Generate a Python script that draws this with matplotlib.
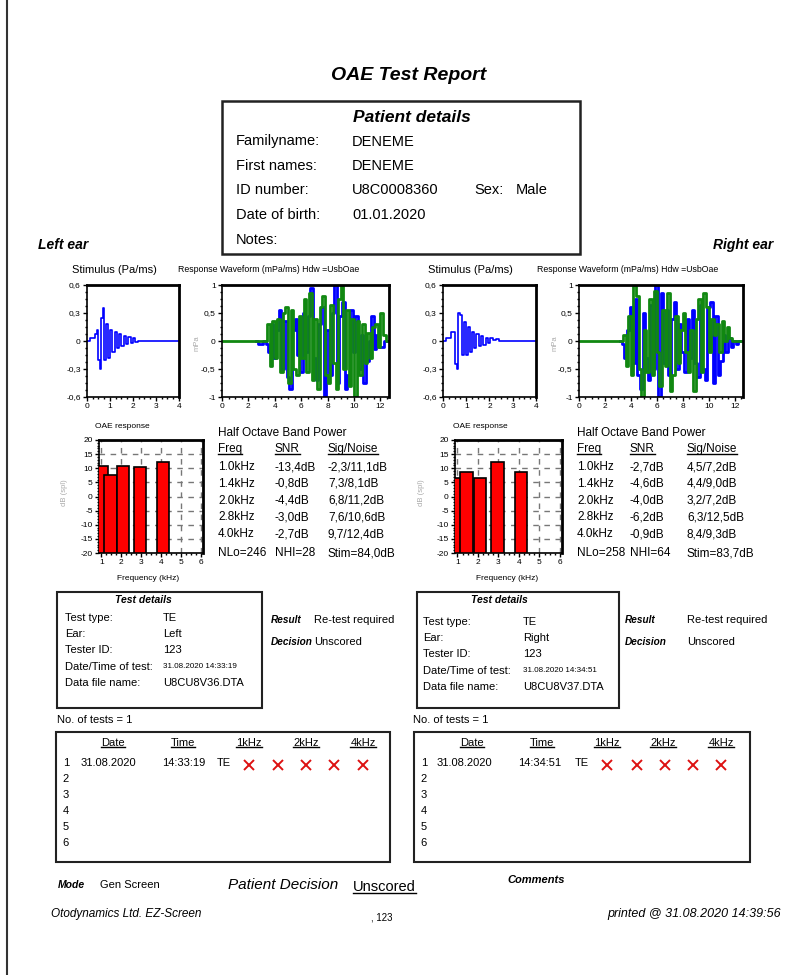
import numpy as np
import matplotlib
matplotlib.use('Agg')
from matplotlib import pyplot as plt
from matplotlib.patches import Rectangle
from matplotlib.ticker import AutoMinorLocator, FuncFormatter

plt.rcParams['font.family'] = ['Liberation Sans', 'DejaVu Sans']

W, H = 803, 975

# patient
patient_labels = ['Familyname:', 'First names:', 'ID number:', 'Date of birth:', 'Notes:']
patient_values = ['DENEME', 'DENEME', 'U8C0008360', '01.01.2020', '']
patient_sex = 'Male'

# stimulus (Pa/ms) - left / right
stim_t_l = [0, 0.3, 0.38, 0.45, 0.52, 0.58, 0.65, 0.72, 0.80, 0.88,
            0.97, 1.06, 1.15, 1.25, 1.35, 1.45, 1.55, 1.65, 1.75, 1.85,
            1.95, 2.05, 2.15, 2.25, 2.4, 4.0]
stim_v_l = [0, 0.03, 0.08, 0.12, -0.2, -0.3, 0.25, 0.35, -0.2, 0.18,
            -0.18, 0.12, -0.12, 0.1, -0.08, 0.07, -0.05, 0.05, -0.03, 0.04,
            -0.02, 0.03, -0.01, 0.0, 0.0, 0.0]
stim_t_r = [0, 0.3, 0.4, 0.48, 0.55, 0.62, 0.70, 0.77, 0.85, 0.93,
            1.01, 1.10, 1.19, 1.28, 1.38, 1.48, 1.58, 1.68, 1.78, 1.88,
            1.98, 2.1, 2.2, 2.35, 2.5, 2.65, 4.0]
stim_v_r = [0, 0.03, 0.1, 0.1, -0.25, -0.3, 0.3, 0.28, -0.15, 0.2,
            -0.15, 0.15, -0.12, 0.1, -0.08, 0.07, -0.05, 0.05, -0.04, 0.03,
            -0.02, 0.03, 0.01, 0.02, 0.0, 0.0, 0.0]

# response waveform (mPa/ms), one sample every 0.2 ms from the start time
resp_dt = 0.2
resp_l_blue_t0 = 2.6
resp_l_blue = [0, -0.05, -0.05, 0.0, -0.05, -0.2, 0.3, -0.3, 0.2, 0.55,
               -0.5, 0.35, -0.65, -0.85, 0.2, 0.4, -0.25, -0.55, 0.5, -0.2,
               0.45, 0.95, -0.3, -0.7, 0.3, 0.6, -1.0, 0.2, -0.6, 0.5,
               1.0, -0.75, 0.45, 0.7, -0.85, -0.6, 0.55, -0.2, 0.45, -0.5,
               0.1, -0.75, -0.35, 0.0, 0.45, -0.15, 0.1, -0.1, -0.1, 0.0, 0.0]
resp_l_green_t0 = 3.3
resp_l_green = [0, 0.3, -0.45, 0.35, -0.3, 0.4, -0.55, 0.5, 0.6, -0.75,
                0.55, -0.5, -0.6, 0.45, -0.3, 0.75, -0.55, 0.85, -0.7, 0.4,
                -0.85, 0.6, 0.8, -0.6, -0.75, 0.65, -0.4, -0.85, 0.75, 1.0,
                -0.5, 0.55, -0.8, 0.4, -1.0, 0.35, -0.6, 0.3, -0.4, 0.15,
                -0.3, 0.25, 0.3, -0.1, 0.5, 0.1, 0.0, 0.0]
resp_r_blue_t0 = 3.2
resp_r_blue = [0, -0.05, -0.3, 0.2, 0.6, -0.4, 0.75, -0.6, -0.85, 0.5,
               -0.3, -0.7, 0.65, -0.5, 1.0, -1.0, 0.85, -0.4, 0.55, -0.6,
               0.4, 0.7, -0.5, 0.3, -0.2, -0.55, 0.4, -0.3, 0.55, -0.4,
               -0.65, 0.65, -0.5, -0.7, 0.6, 0.7, -0.75, 0.45, -0.6, -0.35,
               0.1, -0.2, 0.05, -0.1, 0.0, -0.05, 0.0]
resp_r_green_t0 = 3.3
resp_r_green = [0, 0.1, -0.45, 0.45, -0.6, 1.0, 0.8, -0.5, -1.0, 0.2,
                -0.55, 0.75, -0.6, 0.9, -0.2, -0.8, 0.55, -0.45, 0.85, -0.9,
                -0.6, 0.45, -0.4, 0.2, 0.5, -0.2, -0.55, 0.2, -0.9, 0.4,
                0.75, -0.55, 0.85, 0.6, -0.2, 0.4, 0.1, 0.3, -0.2, 0.35,
                0.0, 0.25, 0.05, 0.0, 0.0, 0.0, 0.0]

# OAE response bars (dB spl)
bar_x = [1.0, 1.45, 2.1, 2.95, 4.1]
bar_l = [10.9, 7.7, 10.9, 10.4, 12.1]
bar_r = [6.5, 8.7, 6.5, 12.1, 8.8]

# half octave band power tables
band_freq = ['1.0kHz', '1.4kHz', '2.0kHz', '2.8kHz', '4.0kHz']
snr_l = ['-13,4dB', '-0,8dB', '-4,4dB', '-3,0dB', '-2,7dB']
sig_noise_l = ['-2,3/11,1dB', '7,3/8,1dB', '6,8/11,2dB', '7,6/10,6dB', '9,7/12,4dB']
summary_l = ['NLo=246', 'NHI=28', 'Stim=84,0dB']
snr_r = ['-2,7dB', '-4,6dB', '-4,0dB', '-6,2dB', '-0,9dB']
sig_noise_r = ['4,5/7,2dB', '4,4/9,0dB', '3,2/7,2dB', '6,3/12,5dB', '8,4/9,3dB']
summary_r = ['NLo=258', 'NHI=64', 'Stim=83,7dB']

# test details
test_labels = ['Test type:', 'Ear:', 'Tester ID:', 'Date/Time of test:', 'Data file name:']
test_vals_l = ['TE', 'Left', '123', '31.08.2020 14:33:19', 'U8CU8V36.DTA']
test_vals_r = ['TE', 'Right', '123', '31.08.2020 14:34:51', 'U8CU8V37.DTA']
result_txt = 'Re-test required'
decision_txt = 'Unscored'

# test history
hist_cols = ['Date', 'Time', '1kHz', '2kHz', '4kHz']
hist_l = ['31.08.2020', '14:33:19', 'TE']
hist_r = ['31.08.2020', '14:34:51', 'TE']
band_result_l = ['fail', 'fail', 'fail', 'fail', 'fail']
band_result_r = ['fail', 'fail', 'fail', 'fail', 'fail']
n_tests = 1

fig = plt.figure(figsize=(W / 100, H / 100), dpi=100)
bg = fig.add_axes([0, 0, 1, 1])
bg.set_xlim(0, W)
bg.set_ylim(H, 0)
bg.axis('off')


def txt(x, y, s, size=8, **kw):
    kw.setdefault('va', 'center')
    return bg.text(x, y, s, fontsize=size, **kw)


def rect(x0, y0, x1, y1, lw=1.5):
    bg.add_patch(Rectangle((x0, y0), x1 - x0, y1 - y0, fill=False, ec='#222222', lw=lw))


def axes_px(x0, y0, x1, y1):
    return fig.add_axes([x0 / W, 1 - y1 / H, (x1 - x0) / W, (y1 - y0) / H])


comma = FuncFormatter(lambda v, p: ('%g' % v).replace('.', ','))


def style_axes(ax):
    for s in ['left', 'bottom']:
        ax.spines[s].set_linewidth(1.2)
    for s in ['top', 'right']:
        ax.spines[s].set_linewidth(2.0)
    ax.xaxis.set_minor_locator(AutoMinorLocator(4))
    ax.yaxis.set_minor_locator(AutoMinorLocator(4))
    ax.tick_params(which='major', labelsize=6, length=3, width=1, pad=1.5)
    ax.tick_params(which='minor', length=1.5, width=1)
    ax.yaxis.set_major_formatter(comma)


underlined = []

# page edge
bg.plot([7, 7], [0, H], color='#333333', lw=1.5)

# header
txt(409, 75, 'OAE Test Report', 14, ha='center', fontweight='bold', fontstyle='italic')
rect(222, 101, 580, 254, lw=1.8)
txt(412, 117, 'Patient details', 12.5, ha='center', fontweight='bold', fontstyle='italic')
for i, (lab, val) in enumerate(zip(patient_labels, patient_values)):
    y = 141.5 + i * 24.5
    txt(236, y, lab, 10.5)
    txt(352, y, val, 10.5)
txt(474, 190.5, 'Sex:', 10.5)
txt(516, 190.5, patient_sex, 10.5)

txt(38, 245, 'Left ear', 10, fontweight='bold', fontstyle='italic')
txt(773, 245, 'Right ear', 10, ha='right', fontweight='bold', fontstyle='italic')

# waveforms
sides = [
    (stim_t_l, stim_v_l, 87, 179, 72, 222, 389, 178, 197,
     (resp_l_blue_t0, resp_l_blue), (resp_l_green_t0, resp_l_green)),
    (stim_t_r, stim_v_r, 443, 536, 428, 579, 743, 537, 555,
     (resp_r_blue_t0, resp_r_blue), (resp_r_green_t0, resp_r_green)),
]
for st, sv, sx0, sx1, stx, rx0, rx1, rtx, mpx, blue, green in sides:
    txt(stx, 270, 'Stimulus (Pa/ms)', 8)
    txt(rtx, 270, 'Response Waveform (mPa/ms) Hdw =UsbOae', 6.3)
    ax = axes_px(sx0, 285, sx1, 397)
    ax.plot(st, sv, color='#0000ff', lw=1.2, drawstyle='steps-mid')
    ax.set_xlim(0, 4)
    ax.set_ylim(-0.6, 0.6)
    ax.set_xticks([0, 1, 2, 3, 4])
    ax.set_yticks([-0.6, -0.3, 0, 0.3, 0.6])
    style_axes(ax)

    ax = axes_px(rx0, 285, rx1, 397)
    bt = blue[0] + resp_dt * np.arange(len(blue[1]))
    ax.plot(bt, blue[1], color='#0000ff', lw=2.0, drawstyle='steps-mid')
    gt = np.concatenate([[0], green[0] + resp_dt * np.arange(len(green[1]))])
    gv = [0] + green[1]
    ax.plot(gt, gv, color='#118811', lw=2.0, drawstyle='steps-mid')
    ax.set_xlim(0, 12.65)
    ax.set_ylim(-1, 1)
    ax.set_xticks([0, 2, 4, 6, 8, 10, 12])
    ax.set_yticks([-1, -0.5, 0, 0.5, 1])
    style_axes(ax)
    txt(mpx, 343, 'mPa', 5.5, ha='center', rotation=90, color='#aaaaaa')

# OAE response bars + band tables
bar_sides = [
    (bar_l, 99, 203, 95, 65, 148, 218, 275, 328, snr_l, sig_noise_l, summary_l),
    (bar_r, 455, 562, 453, 422, 507, 577, 630, 687, snr_r, sig_noise_r, summary_r),
]
for bars, bx0, bx1, otx, dbx, fqx, c0, c1, c2, snr, sn, summ in bar_sides:
    txt(otx, 427, 'OAE response', 6)
    ax = axes_px(bx0, 440, bx1, 553)
    ax.bar(bar_x, np.array(bars) + 20, bottom=-20, width=0.62,
           color='#ff0000', edgecolor='black', lw=1.2, zorder=3)
    ax.set_xlim(0.88, 6.1)
    ax.set_ylim(-20, 20)
    ax.set_xticks([1, 2, 3, 4, 5, 6])
    ax.set_yticks(range(-20, 21, 5))
    ax.grid(True, color='#777777', lw=1, linestyle=(0, (4, 4)), zorder=0)
    style_axes(ax)
    ax.yaxis.set_minor_locator(AutoMinorLocator(5))
    txt(dbx, 493, 'dB (spl)', 5.5, ha='center', rotation=90, color='#aaaaaa')
    txt(fqx, 578, 'Frequency (kHz)', 6, ha='center')

    txt(c0, 433, 'Half Octave Band Power', 8.5)
    underlined.append(txt(c0, 449, 'Freq', 8.5))
    underlined.append(txt(c1, 449, 'SNR', 8.5))
    underlined.append(txt(c2, 449, 'Sig/Noise', 8.5))
    for i in range(len(band_freq)):
        y = 467 + i * 16.8
        txt(c0, y, band_freq[i], 8.5)
        txt(c1, y, snr[i], 8.5)
        txt(c2, y, sn[i], 8.5)
    for x, s in zip([c0, c1, c2], summ):
        txt(x, 553, s, 8.5)

# test details boxes
det_sides = [
    (57, 262, 143, 65, 163, test_vals_l, 271, 314, 618),
    (417, 619, 499, 423, 523, test_vals_r, 625, 687, 622),
]
for x0, x1, tcx, lx, vx, vals, rx, rvx, y0 in det_sides:
    rect(x0, 592, x1, 708, lw=1.5)
    txt(tcx, 600, 'Test details', 7.5, ha='center', fontweight='bold', fontstyle='italic')
    for i, (lab, val) in enumerate(zip(test_labels, vals)):
        y = y0 + i * 16.2
        txt(lx, y, lab, 8)
        txt(vx, y, val, 5.8 if i == 3 else 8)
    txt(rx, 620, 'Result', 7.2, fontweight='bold', fontstyle='italic')
    txt(rvx, 620, result_txt, 8)
    txt(rx, 642, 'Decision', 7.2, fontweight='bold', fontstyle='italic')
    txt(rvx, 642, decision_txt, 8)

# test history boxes
hist_sides = [
    (56, 390, 57, 66, 81, 162, 217, [113, 183, 249, 306, 363], [249, 278, 306, 334, 363], hist_l, band_result_l),
    (414, 750, 413, 424, 437, 518, 575, [472, 542, 607, 663, 721], [607, 637, 665, 693, 721], hist_r, band_result_r),
]
for x0, x1, ntx, nx, dx, tx, tex, hx, cx, row, res in hist_sides:
    txt(ntx, 720, 'No. of tests = %d' % n_tests, 8)
    rect(x0, 732, x1, 862, lw=1.5)
    for x, s in zip(hx, hist_cols):
        underlined.append(txt(x, 743, s, 8, ha='center'))
    for i in range(6):
        txt(nx, 763 + i * 16, str(i + 1), 8, ha='center')
    txt(dx, 763, row[0], 8)
    txt(tx, 763, row[1], 8)
    txt(tex, 763, row[2], 8)
    for x, r in zip(cx, res):
        if r == 'fail':
            bg.plot([x], [765], marker='x', ms=7.5, mew=1.4, color='#dd1111', ls='none')

# footer
txt(58, 885, 'Mode', 7.5, fontweight='bold', fontstyle='italic')
txt(100, 885, 'Gen Screen', 8)
txt(228, 885, 'Patient Decision', 11, fontstyle='italic')
underlined.append(txt(353, 887, decision_txt, 10.5))
txt(507, 880, 'Comments', 8, fontweight='bold', fontstyle='italic')
txt(51, 914, 'Otodynamics Ltd. EZ-Screen', 8.5, fontstyle='italic')
txt(382, 917, ', 123', 7, ha='center')
txt(781, 914, 'printed @ 31.08.2020 14:39:56', 9, ha='right', fontstyle='italic')

# underline headers
fig.canvas.draw()
rend = fig.canvas.get_renderer()
inv = bg.transData.inverted()
for t in underlined:
    bb = t.get_window_extent(rend)
    (ax0, ay0), (ax1, ay1) = inv.transform([[bb.x0, bb.y0], [bb.x1, bb.y1]])
    yb = max(ay0, ay1) - 1
    bg.plot([ax0, ax1], [yb, yb], color='black', lw=1)

fig.savefig('out.png', dpi=100)
